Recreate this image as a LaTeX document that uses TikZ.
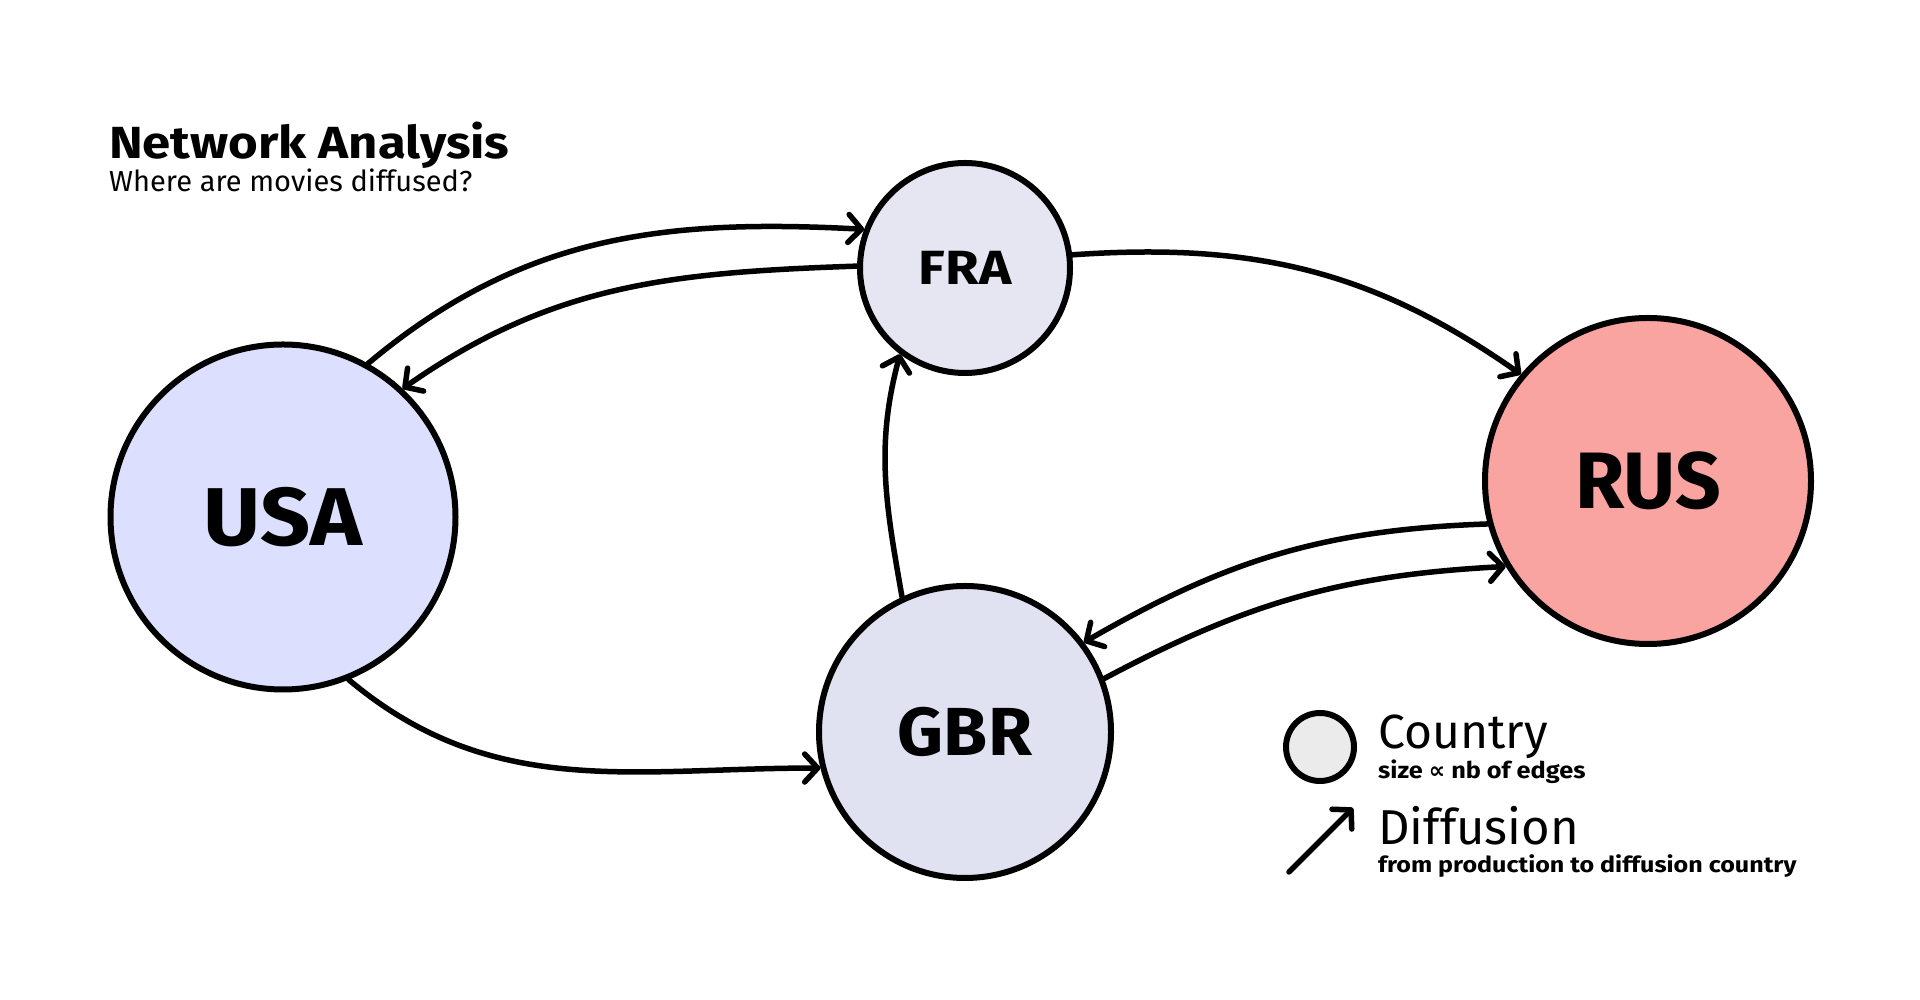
\documentclass[tikz,border=0pt]{standalone}
\usepackage{fontspec}
\setmainfont{Fira Sans}
\newfontfamily\symfont{DejaVu Sans}
\usetikzlibrary{arrows.meta}

\definecolor{usafill}{HTML}{DCDFFD}
\definecolor{frafill}{HTML}{E6E6F2}
\definecolor{gbrfill}{HTML}{E0E1F1}
\definecolor{rusfill}{HTML}{F9A4A1}
\definecolor{keyfill}{HTML}{EBEBEB}

\newcommand{\wide}[1]{\addfontfeature{FakeStretch=#1}}

\begin{document}
\begin{tikzpicture}[x=1pt,y=1pt,
    country/.style={draw,circle,line width=6pt,inner sep=0pt,font=\bfseries},
    diff/.style={line width=5.5pt,line cap=round,-{Straight Barb[length=13pt,width=28pt,round]}},
    say/.style={anchor=base west,inner sep=0pt}]
    \useasboundingbox (0,0) rectangle (1920,1000);
    % title
    \node[say,font=\fontsize{45}{50}\selectfont\bfseries\wide{1.13}] (title) at (109,841) {Network Analysis};
    \node[say,font=\fontsize{29}{34}\selectfont] (subtitle) at (109,808) {Where are movies diffused?};
    % countries
    \node[country,fill=usafill,minimum size=345pt,font=\fontsize{82}{90}\selectfont\bfseries\wide{1.07}] (usa) at (283,483) {USA};
    \node[country,fill=frafill,minimum size=210pt,font=\fontsize{48}{54}\selectfont\bfseries\wide{1.14}] (fra) at (965,732) {FRA};
    \node[country,fill=gbrfill,minimum size=292pt,font=\fontsize{68}{74}\selectfont\bfseries\wide{1.05}] (gbr) at (965,268) {GBR};
    \node[country,fill=rusfill,minimum size=326pt,font=\fontsize{80}{88}\selectfont\bfseries] (rus) at (1648,519) {RUS};
    % diffusion edges
    \draw[diff] (usa.61) to[out=40,in=177] (fra.159);
    \draw[diff] (fra.179) to[out=182,in=35] (usa.47);
    \draw[diff] (fra.7) to[out=4,in=145] (rus.140);
    \draw[diff] (gbr.115) to[out=100,in=255] (fra.233);
    \draw[diff] (usa.292) to[out=-40,in=180] (gbr.194);
    \draw[diff] (rus.195) to[out=182,in=30] (gbr.37);
    \draw[diff] (gbr.21) to[out=28,in=183] (rus.211);
    % legend
    \node[country,fill=keyfill,minimum size=68pt] (key) at (1320,253) {};
    \node[say,font=\fontsize{48}{54}\selectfont] (keycountry) at (1378,251) {Country};
    \node[say,font=\fontsize{23}{27}\selectfont\bfseries\wide{1.1}] (keysize) at (1378,221) {size {\symfont\bfseries ∝} nb of edges};
    \coordinate (keyfrom) at (1289,128);
    \coordinate (keyto) at (1353,192);
    \draw[diff] (keyfrom) -- (keyto);
    \node[say,font=\fontsize{49}{55}\selectfont] (keydiff) at (1378,155) {Diffusion};
    \node[say,font=\fontsize{22}{26}\selectfont\bfseries\wide{1.14}] (keyhow) at (1378,127) {from production to diffusion country};
\end{tikzpicture}
\end{document}
